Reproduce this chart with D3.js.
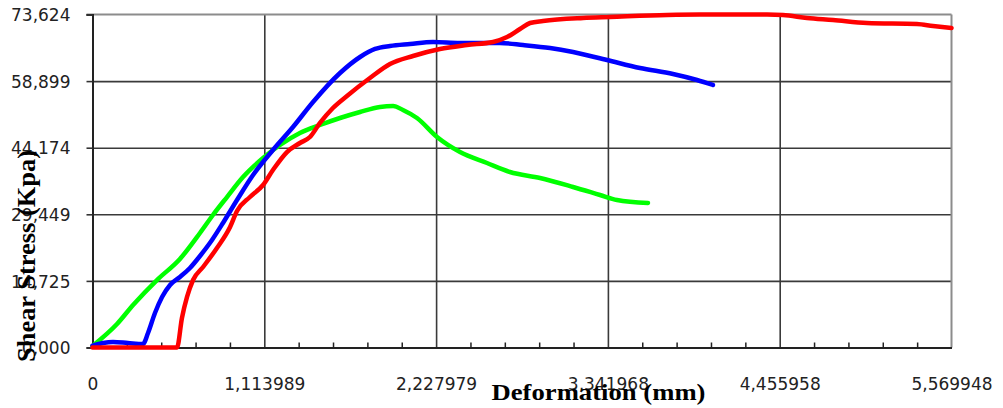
<!DOCTYPE html>
<html>
<head>
<meta charset="utf-8">
<script src="https://cdn.jsdelivr.net/npm/d3@7"></script>
<style>
  html, body { margin: 0; padding: 0; background: #fff; }
  svg { display: block; }
</style>
</head>
<body>
<div id="chart"></div>
<script>
// tick values and their labels as printed on the chart
const xTicks = [0, 1.113989, 2.227979, 3.341968, 4.455958, 5.569948];
const xTickLabels = ['0', '1,113989', '2,227979', '3,341968', '4,455958', '5,569948'];
const yTicks = [0, 14.725, 29.449, 44.174, 58.899, 73.624];
const yTickLabels = ['0,000', '14,725', '29,449', '44,174', '58,899', '73,624'];

// series: [deformation mm, shear stress]
const redSeries = [
  [0, 0], [0.548, 0], [0.580, 6.52], [0.613, 11.17], [0.652, 14.92], [0.717, 17.80],
  [0.807, 22.00], [0.892, 26.64], [0.937, 30.18], [1.021, 33.27], [1.106, 35.93],
  [1.170, 39.24], [1.261, 43.22], [1.345, 45.21], [1.410, 46.54], [1.475, 49.64],
  [1.559, 52.95], [1.650, 55.61], [1.799, 59.58], [1.929, 62.68], [2.078, 64.45],
  [2.253, 66.00], [2.428, 66.88], [2.597, 67.54], [2.688, 68.65], [2.772, 70.42],
  [2.837, 71.74], [2.921, 72.19], [3.181, 72.85], [3.356, 73.07], [3.725, 73.51],
  [3.939, 73.60], [4.374, 73.60], [4.477, 73.51], [4.633, 72.85], [4.802, 72.41],
  [5.022, 71.74], [5.346, 71.52], [5.450, 71.08], [5.570, 70.64]
];
const blueSeries = [
  [0, 0.40], [0.068, 0.99], [0.133, 1.22], [0.230, 0.99], [0.327, 0.77], [0.360, 3.21],
  [0.405, 7.63], [0.451, 11.17], [0.503, 13.82], [0.567, 15.59], [0.632, 17.58],
  [0.697, 20.23], [0.775, 23.77], [0.846, 27.53], [0.937, 32.61], [1.041, 38.14],
  [1.170, 43.67], [1.300, 48.75], [1.430, 54.28], [1.605, 60.69], [1.735, 64.23],
  [1.832, 66.00], [1.929, 66.66], [2.059, 67.10], [2.208, 67.54], [2.383, 67.32],
  [2.642, 67.32], [2.791, 66.88], [2.967, 66.22], [3.116, 65.33], [3.336, 63.56],
  [3.550, 61.80], [3.764, 60.47], [3.920, 59.14], [4.023, 58.04]
];
const greenSeries = [
  [0, 0.33], [0.159, 5.20], [0.263, 9.40], [0.418, 14.92], [0.567, 19.57], [0.697, 25.32],
  [0.781, 29.30], [0.872, 33.27], [0.976, 37.70], [1.106, 41.90], [1.216, 44.77],
  [1.345, 47.42], [1.475, 49.19], [1.605, 50.74], [1.735, 52.07], [1.864, 53.17],
  [1.949, 53.39], [2.013, 52.51], [2.104, 50.74], [2.234, 46.54], [2.383, 43.22],
  [2.558, 40.79], [2.707, 38.80], [2.902, 37.48], [3.116, 35.49], [3.291, 33.72],
  [3.401, 32.61], [3.602, 31.95]
];

const width = 1003;
const height = 408;
const margin = { top: 14.5, right: 51.5, bottom: 60.5, left: 92.5 };

const x = d3.scaleLinear()
  .domain([0, xTicks[xTicks.length - 1]])
  .range([margin.left, width - margin.right]);
const y = d3.scaleLinear()
  .domain([0, yTicks[yTicks.length - 1]])
  .range([height - margin.bottom, margin.top]);

const svg = d3.select('#chart').append('svg')
  .attr('width', width)
  .attr('height', height)
  .attr('viewBox', [0, 0, width, height]);

svg.append('rect').attr('width', width).attr('height', height).attr('fill', '#fff');

const plotW = width - margin.right - margin.left;
const plotH = height - margin.bottom - margin.top;

// horizontal grid
svg.append('g')
  .attr('transform', `translate(${margin.left},0)`)
  .call(d3.axisLeft(y).tickValues(yTicks.slice(1, -1)).tickSize(-plotW).tickFormat(''))
  .call(g => g.select('.domain').remove())
  .call(g => g.selectAll('.tick line').attr('stroke', '#3a3a3a').attr('stroke-width', 1.6));

// vertical grid
svg.append('g')
  .attr('transform', `translate(0,${height - margin.bottom})`)
  .call(d3.axisBottom(x).tickValues(xTicks.slice(1, -1)).tickSize(-plotH).tickFormat(''))
  .call(g => g.select('.domain').remove())
  .call(g => g.selectAll('.tick line').attr('stroke', '#3a3a3a').attr('stroke-width', 1.6));

// top and right border
svg.append('line')
  .attr('x1', margin.left - 6).attr('x2', width - margin.right)
  .attr('y1', y(yTicks[yTicks.length - 1])).attr('y2', y(yTicks[yTicks.length - 1]))
  .attr('stroke', '#8c8c8c').attr('stroke-width', 2);
svg.append('line')
  .attr('x1', width - margin.right).attr('x2', width - margin.right)
  .attr('y1', margin.top).attr('y2', height - margin.bottom)
  .attr('stroke', '#8c8c8c').attr('stroke-width', 2);

// minor ticks on the x axis (pointing inward)
const minorStep = xTicks[1] / 5;
const minorTicks = d3.range(1, 25).map(i => i * minorStep).filter((d, i) => (i + 1) % 5 !== 0);
svg.append('g')
  .attr('transform', `translate(0,${height - margin.bottom})`)
  .call(d3.axisBottom(x).tickValues(minorTicks).tickSize(-5).tickFormat(''))
  .call(g => g.select('.domain').remove())
  .call(g => g.selectAll('.tick line').attr('stroke', '#222').attr('stroke-width', 1.5));

const fontTicks = '"DejaVu Sans", Verdana, sans-serif';

// y axis
svg.append('g')
  .attr('transform', `translate(${margin.left},0)`)
  .call(d3.axisLeft(y).tickValues(yTicks).tickSize(6).tickPadding(16)
    .tickFormat((d, i) => yTickLabels[i]))
  .call(g => g.select('.domain').attr('stroke', '#222').attr('stroke-width', 2))
  .call(g => g.selectAll('.tick line').attr('stroke', '#333').attr('stroke-width', 1.6))
  .call(g => g.selectAll('.tick text')
    .attr('font-family', fontTicks).attr('font-size', 17).attr('fill', '#222')
    .attr('dy', '0.36em'));

// x axis
svg.append('g')
  .attr('transform', `translate(0,${height - margin.bottom})`)
  .call(d3.axisBottom(x).tickValues(xTicks).tickSize(0).tickPadding(30)
    .tickFormat((d, i) => xTickLabels[i]))
  .call(g => g.select('.domain').attr('stroke', '#222').attr('stroke-width', 2))
  .call(g => g.selectAll('.tick text')
    .attr('font-family', fontTicks).attr('font-size', 17).attr('fill', '#222'));

// lines
const line = d3.line()
  .x(d => x(d[0]))
  .y(d => y(d[1]))
  .curve(d3.curveMonotoneX);

const series = [
  { data: greenSeries, color: '#00ff00' },
  { data: blueSeries, color: '#0000ff' },
  { data: redSeries, color: '#ff0000' }
];

svg.append('g')
  .selectAll('path')
  .data(series)
  .join('path')
  .attr('d', d => line(d.data))
  .attr('fill', 'none')
  .attr('stroke', d => d.color)
  .attr('stroke-width', 4.5)
  .attr('stroke-linejoin', 'round')
  .attr('stroke-linecap', 'round');

// axis titles
const fontTitle = '"Liberation Serif", "Times New Roman", serif';
svg.append('text')
  .attr('x', 491.5)
  .attr('y', 400)
  .attr('font-family', fontTitle)
  .attr('font-weight', 'bold')
  .attr('font-size', 23)
  .attr('textLength', 214)
  .attr('lengthAdjust', 'spacingAndGlyphs')
  .attr('fill', '#000')
  .text('Deformation (mm)');

svg.append('text')
  .attr('transform', 'translate(35,362) rotate(-90)')
  .attr('font-family', fontTitle)
  .attr('font-weight', 'bold')
  .attr('font-size', 26)
  .attr('textLength', 212)
  .attr('lengthAdjust', 'spacingAndGlyphs')
  .attr('fill', '#000')
  .text('Shear Stress (Kpa)');
</script>
</body>
</html>
